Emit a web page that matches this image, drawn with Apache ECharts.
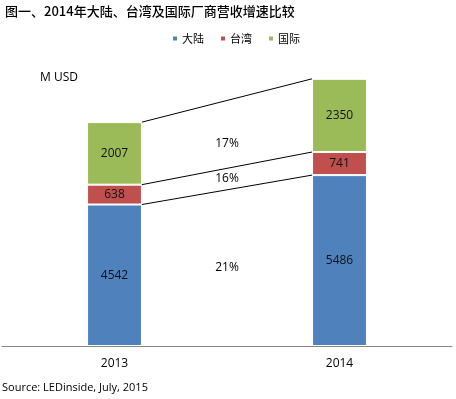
<!DOCTYPE html>
<html><head><meta charset="utf-8">
<script src="https://cdn.jsdelivr.net/npm/echarts@6/dist/echarts.min.js"></script>
<style>html,body{margin:0;padding:0;background:#fff}#c{width:456px;height:399px}</style>
</head><body><div id="c"></div>
<script>
var categories = ['2013', '2014'];
var mainland = [4542, 5486];
var taiwan = [638, 741];
var intl = [2007, 2350];
var growth = ['21%', '16%', '17%'];
var seriesNames = ['大陆', '台湾', '国际'];
var colors = ['#4F81BD', '#C0504D', '#9BBB59'];

var BAR_FRAC = 0.244;
var LABEL_FRAC = [0.5, 0.5, 0.36];
var chart = echarts.init(document.getElementById('c'));
var font = '"Open Sans", "Noto Sans CJK SC", sans-serif';

function barSeries(name, data, color) {
  return {
    name: name, type: 'bar', stack: 's', data: data, barWidth: (BAR_FRAC * 100) + '%',
    itemStyle: { color: color, borderColor: '#fff', borderWidth: 1 },
    label: { show: true, position: 'inside', color: '#111', fontSize: 12, fontFamily: font },
    silent: true
  };
}

var levels = [mainland, taiwan, intl];
function cum(yearIdx, lvl) {
  var s = 0;
  for (var i = 0; i <= lvl; i++) s += levels[i][yearIdx];
  return s;
}

chart.setOption({
  animation: false,
  title: {
    text: '图一、2014年大陆、台湾及国际厂商营收增速比较', left: 0, top: 0,
    textStyle: { fontSize: 13, fontWeight: 500, color: '#000', fontFamily: '"Noto Sans CJK SC", sans-serif' }
  },
  legend: {
    data: seriesNames, left: 166, top: 28, itemWidth: 6, itemHeight: 6, itemGap: 15,
    icon: 'rect',
    textStyle: { fontSize: 11, color: '#000', fontFamily: '"Noto Sans CJK SC", sans-serif', padding: [0, 0, 0, -1] }
  },
  graphic: [
    { type: 'text', left: 40, top: 72, style: { text: 'M USD', fill: '#000', font: '12px "Open Sans", sans-serif' } },
    { type: 'text', left: 2, top: 382, style: { text: 'Source: LEDinside, July, 2015', fill: '#000', font: '11px "Open Sans", sans-serif' } }
  ],
  grid: { left: 2, right: 4, top: 34.5, bottom: 53, containLabel: false },
  xAxis: {
    type: 'category', data: categories,
    axisLine: { lineStyle: { color: '#868686', width: 1 } },
    axisTick: { show: false },
    axisLabel: { color: '#000', fontSize: 12, margin: 12, fontFamily: font }
  },
  yAxis: { type: 'value', min: 0, max: 10000, show: false, splitLine: { show: false } },
  series: [
    barSeries(seriesNames[0], mainland, colors[0]),
    barSeries(seriesNames[1], taiwan, colors[1]),
    barSeries(seriesNames[2], intl, colors[2]),
    {
      type: 'custom', name: 'connectors', silent: true, z: 5, clip: false,
      data: [[0, 0]],
      encode: { x: 0, y: 1 },
      renderItem: function (params, api) {
        var band = api.size([1, 0])[0];
        var hw = band * BAR_FRAC / 2;
        var children = [];
        var prevMid = null;
        for (var l = 0; l < 3; l++) {
          var a = api.coord([0, cum(0, l)]);
          var b = api.coord([1, cum(1, l)]);
          children.push({
            type: 'line',
            shape: { x1: a[0] + hw, y1: a[1], x2: b[0] - hw, y2: b[1] },
            style: { stroke: '#000', lineWidth: 1 }
          });
          var midX = (a[0] + b[0]) / 2;
          var upperY = (a[1] + b[1]) / 2;
          var lowerY = (l === 0) ? api.coord([0, 0])[1] : prevMid;
          children.push({
            type: 'text',
            style: { text: growth[l], x: midX, y: lowerY + (upperY - lowerY) * LABEL_FRAC[l], textAlign: 'center', textVerticalAlign: 'middle', fill: '#000', font: '12px "Open Sans", sans-serif' }
          });
          prevMid = upperY;
        }
        return { type: 'group', children: children };
      }
    }
  ]
});
</script></body></html>
